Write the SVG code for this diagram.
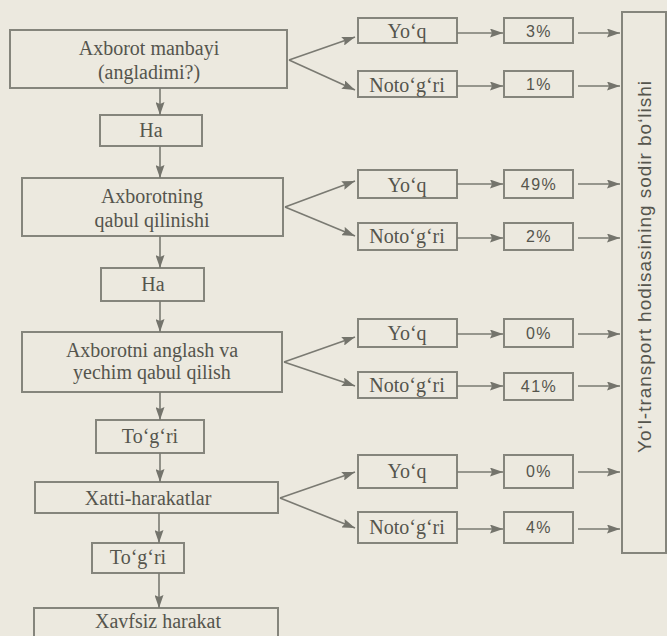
<svg xmlns="http://www.w3.org/2000/svg" width="667" height="636" viewBox="0 0 667 636">
<defs>
<marker id="ah" viewBox="0 0 13 9" refX="13" refY="4.5" markerWidth="13" markerHeight="9" markerUnits="userSpaceOnUse" orient="auto">
<path d="M0,0 L13,4.5 L0,9 L2,4.5 Z" fill="#74746c"/>
</marker>
<style>
.box{fill:none;stroke:#85857c;stroke-width:2}
.t{font-family:"Liberation Serif","Times New Roman",serif;font-size:20px;fill:#55554d;text-anchor:middle}
.p{font-family:"Liberation Sans",Arial,sans-serif;font-size:16px;fill:#55554d;text-anchor:middle;letter-spacing:1.5px}
.v{font-family:"Liberation Sans",Arial,sans-serif;font-size:19px;fill:#55554d}
.c{stroke:#7a7a72;stroke-width:1.6;fill:none;marker-end:url(#ah)}
</style>
</defs>
<rect width="667" height="636" fill="#ece9df"/>

<g id="n-manba"><rect class="box" x="10" y="30" width="277" height="58"/><text class="t" x="149" y="55">Axborot manbayi</text><text class="t" x="149" y="79">(angladimi?)</text></g>
<g id="n-ha1"><rect class="box" x="100" y="115" width="102" height="31"/><text class="t" x="151" y="137">Ha</text></g>
<g id="n-qabul"><rect class="box" x="22" y="178" width="261" height="58"/><text class="t" x="152" y="203">Axborotning</text><text class="t" x="152" y="227">qabul qilinishi</text></g>
<g id="n-ha2"><rect class="box" x="101" y="268" width="103" height="33"/><text class="t" x="153" y="291">Ha</text></g>
<g id="n-anglash"><rect class="box" x="22" y="332" width="260" height="60"/><text class="t" x="152" y="357">Axborotni anglash va</text><text class="t" x="152" y="379">yechim qabul qilish</text></g>
<g id="n-togri1"><rect class="box" x="96" y="420" width="108" height="33"/><text class="t" x="150" y="443">To‘g‘ri</text></g>
<g id="n-xatti"><rect class="box" x="35" y="482" width="243" height="31"/><text class="t" x="148" y="505">Xatti-harakatlar</text></g>
<g id="n-togri2"><rect class="box" x="92" y="543" width="92" height="30"/><text class="t" x="138" y="564">To‘g‘ri</text></g>
<g id="n-xavfsiz"><rect class="box" x="34" y="608" width="244" height="40"/><text class="t" x="158" y="628">Xavfsiz harakat</text></g>

<g id="n-yoq1"><rect class="box" x="358" y="18" width="99" height="25"/><text class="t" x="407" y="38">Yo‘q</text></g>
<g id="n-not1"><rect class="box" x="358" y="71" width="99" height="26"/><text class="t" x="407" y="92">Noto‘g‘ri</text></g>
<g id="n-yoq2"><rect class="box" x="358" y="170" width="99" height="28"/><text class="t" x="407" y="192">Yo‘q</text></g>
<g id="n-not2"><rect class="box" x="358" y="223" width="99" height="27"/><text class="t" x="407" y="243">Noto‘g‘ri</text></g>
<g id="n-yoq3"><rect class="box" x="358" y="319" width="99" height="28"/><text class="t" x="407" y="340">Yo‘q</text></g>
<g id="n-not3"><rect class="box" x="358" y="372" width="99" height="26"/><text class="t" x="407" y="392">Noto‘g‘ri</text></g>
<g id="n-yoq4"><rect class="box" x="358" y="455" width="99" height="33"/><text class="t" x="407" y="478">Yo‘q</text></g>
<g id="n-not4"><rect class="box" x="358" y="512" width="99" height="31"/><text class="t" x="407" y="534">Noto‘g‘ri</text></g>

<g id="n-p1"><rect class="box" x="504" y="18" width="69" height="25"/><text class="p" x="539" y="37">3%</text></g>
<g id="n-p2"><rect class="box" x="504" y="71" width="69" height="26"/><text class="p" x="539" y="90">1%</text></g>
<g id="n-p3"><rect class="box" x="504" y="170" width="69" height="28"/><text class="p" x="539" y="190">49%</text></g>
<g id="n-p4"><rect class="box" x="504" y="223" width="69" height="27"/><text class="p" x="539" y="242">2%</text></g>
<g id="n-p5"><rect class="box" x="504" y="319" width="69" height="28"/><text class="p" x="539" y="339">0%</text></g>
<g id="n-p6"><rect class="box" x="504" y="373" width="69" height="27"/><text class="p" x="539" y="392">41%</text></g>
<g id="n-p7"><rect class="box" x="504" y="455" width="69" height="33"/><text class="p" x="539" y="477">0%</text></g>
<g id="n-p8"><rect class="box" x="504" y="512" width="69" height="31"/><text class="p" x="539" y="533">4%</text></g>

<g id="n-hodisa"><rect class="box" x="622" y="12" width="44" height="541"/><text class="v" transform="translate(651,453) rotate(-90)" textLength="372" lengthAdjust="spacing">Yo‘l-transport hodisasining sodir bo‘lishi</text></g>

<g id="connectors">
<path class="c" d="M160,88 V115"/>
<path class="c" d="M160,146 V178"/>
<path class="c" d="M160,236 V268"/>
<path class="c" d="M160,301 V332"/>
<path class="c" d="M160,392 V420"/>
<path class="c" d="M160,453 V482"/>
<path class="c" d="M159,513 V543"/>
<path class="c" d="M159,573 V608"/>

<path class="c" d="M289,60 L355,37"/>
<path class="c" d="M289,60 L355,90"/>
<path class="c" d="M285,207 L355,181"/>
<path class="c" d="M285,207 L355,236"/>
<path class="c" d="M284,362 L355,337"/>
<path class="c" d="M284,362 L355,386"/>
<path class="c" d="M280,498 L355,472"/>
<path class="c" d="M280,498 L355,528"/>

<path class="c" d="M457,33 H503"/>
<path class="c" d="M457,86 H503"/>
<path class="c" d="M457,184 H503"/>
<path class="c" d="M457,238 H503"/>
<path class="c" d="M457,334 H503"/>
<path class="c" d="M457,386 H503"/>
<path class="c" d="M457,472 H503"/>
<path class="c" d="M457,529 H503"/>

<path class="c" d="M578,33 H620"/>
<path class="c" d="M578,86 H620"/>
<path class="c" d="M578,184 H620"/>
<path class="c" d="M578,238 H620"/>
<path class="c" d="M578,334 H620"/>
<path class="c" d="M578,386 H620"/>
<path class="c" d="M578,472 H620"/>
<path class="c" d="M578,529 H620"/>
</g>
</svg>
